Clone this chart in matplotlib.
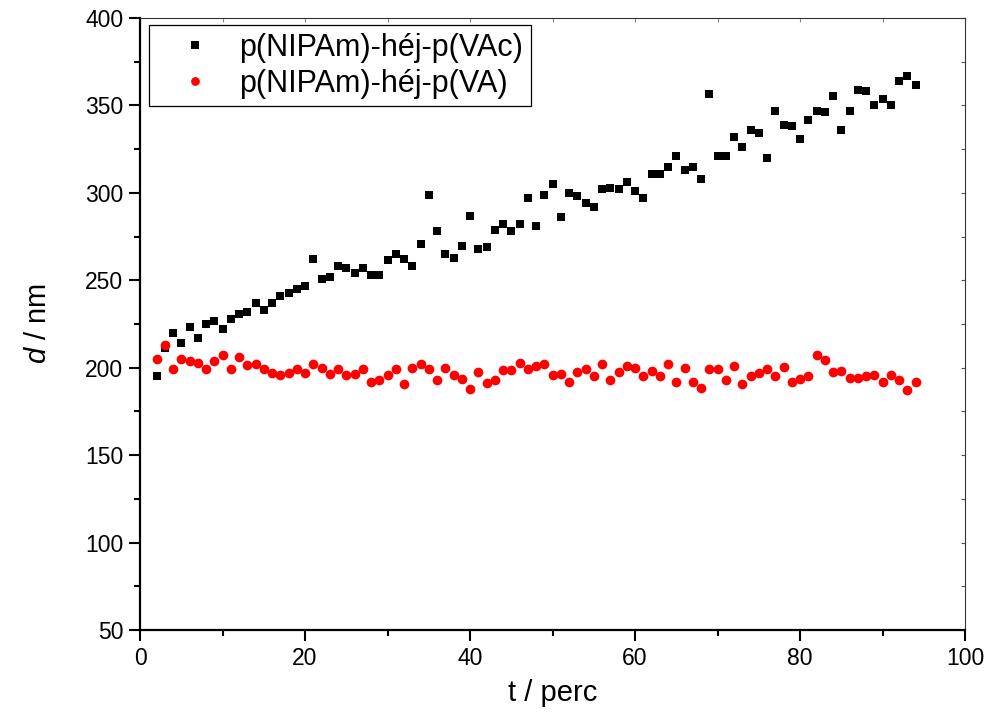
import matplotlib
matplotlib.use("Agg")
import matplotlib.pyplot as plt
from matplotlib.ticker import MultipleLocator
import numpy as np

plt.rcParams['font.family'] = ['Liberation Sans', 'DejaVu Sans']
plt.rcParams['mathtext.fontset'] = 'custom'
plt.rcParams['mathtext.it'] = 'Liberation Sans:italic'
plt.rcParams['mathtext.rm'] = 'Liberation Sans'

t = list(range(2, 95))

d_vac = [195, 211, 220, 214, 223, 217, 225, 227, 222, 228, 231, 232, 237, 233, 237,
         241, 243, 245, 247, 262, 251, 252, 258, 257, 254, 257, 253, 253, 261.5, 265,
         262, 258, 271, 299, 278, 265, 263, 269.5, 287, 268, 269, 279, 282, 278, 282,
         297, 281, 299, 305, 286, 300, 298, 294, 292, 302, 303, 302, 306, 301, 297,
         311, 311, 315, 321, 313, 315, 308, 356.5, 321, 321, 332, 326, 336, 334, 320,
         347, 339, 338, 331, 341.5, 347, 346, 355.5, 336, 347, 359, 358, 350, 353.5,
         350.5, 364, 367, 361.5]

d_va = [205, 213, 199, 205, 204, 202.5, 199, 204, 207, 199.5, 206, 201.5, 202, 199.5,
        197, 196, 197, 199, 197, 202, 200, 196.5, 199, 196, 196.5, 199, 192, 193, 196,
        199.5, 190.5, 200, 202, 199.5, 193, 200, 196, 193.5, 188, 197.5, 191.5, 193,
        198.5, 198.5, 202.5, 199.5, 201, 202, 196, 196.5, 192, 197.5, 199, 195, 202,
        193, 197.5, 201, 200, 195, 198, 195, 202, 192, 200, 192, 188.5, 199, 199, 193,
        201, 190.5, 195, 197, 199.5, 195.5, 200.5, 192, 193.5, 195.5, 207, 204.5,
        197.5, 198, 194, 194, 195, 196, 192, 196, 193, 187.5, 192]

label_vac = 'p(NIPAm)-héj-p(VAc)'
label_va = 'p(NIPAm)-héj-p(VA)'

fig = plt.figure(figsize=(9.88, 7.22), dpi=100)
ax = fig.add_axes([140/988, 92/722, 825/988, 612/722])

ax.plot(t, d_vac, linestyle='none', marker='s', markersize=6.3, color='black',
        markeredgewidth=0, label=label_vac)
ax.plot(t, d_va, linestyle='none', marker='o', markersize=7.0, color='red',
        markeredgewidth=0, label=label_va)

ax.set_xlim(0, 100)
ax.set_ylim(50, 400)
ax.xaxis.set_major_locator(MultipleLocator(20))
ax.xaxis.set_minor_locator(MultipleLocator(10))
ax.yaxis.set_major_locator(MultipleLocator(50))
ax.yaxis.set_minor_locator(MultipleLocator(25))

ax.tick_params(which='major', direction='out', length=8, width=1.5, labelsize=16.5, pad=4)
ax.tick_params(which='minor', direction='out', length=4, width=1.5)

for s in ['left', 'bottom']:
    ax.spines[s].set_linewidth(1.6)
for s in ['top', 'right']:
    ax.spines[s].set_linewidth(0.8)
    ax.spines[s].set_color('#333333')

# mirrored inward ticks on top and right
axr = ax.secondary_yaxis('right')
axr.yaxis.set_major_locator(MultipleLocator(50))
axr.yaxis.set_minor_locator(MultipleLocator(25))
axr.tick_params(which='both', direction='in', length=3, width=0.8, labelright=False, colors='#555555')
axr.spines['right'].set_visible(False)
axt = ax.secondary_xaxis('top')
axt.xaxis.set_major_locator(MultipleLocator(20))
axt.xaxis.set_minor_locator(MultipleLocator(10))
axt.tick_params(which='both', direction='in', length=3, width=0.8, labeltop=False, colors='#888888')
axt.spines['top'].set_visible(False)

ax.set_xlabel('t / perc', fontsize=21, labelpad=7)
ax.set_ylabel(r'$d$ / nm', fontsize=21, labelpad=24)

leg = ax.legend(loc='upper left', bbox_to_anchor=(9/825, 1 - 7/612), fontsize=22,
                frameon=True, fancybox=False, edgecolor='black', framealpha=1,
                borderpad=0.25, handletextpad=0.2, handlelength=2.5,
                labelspacing=0.2, borderaxespad=0, markerscale=0.9)
leg.get_frame().set_linewidth(0.9)

fig.savefig('out.png', dpi=100)
